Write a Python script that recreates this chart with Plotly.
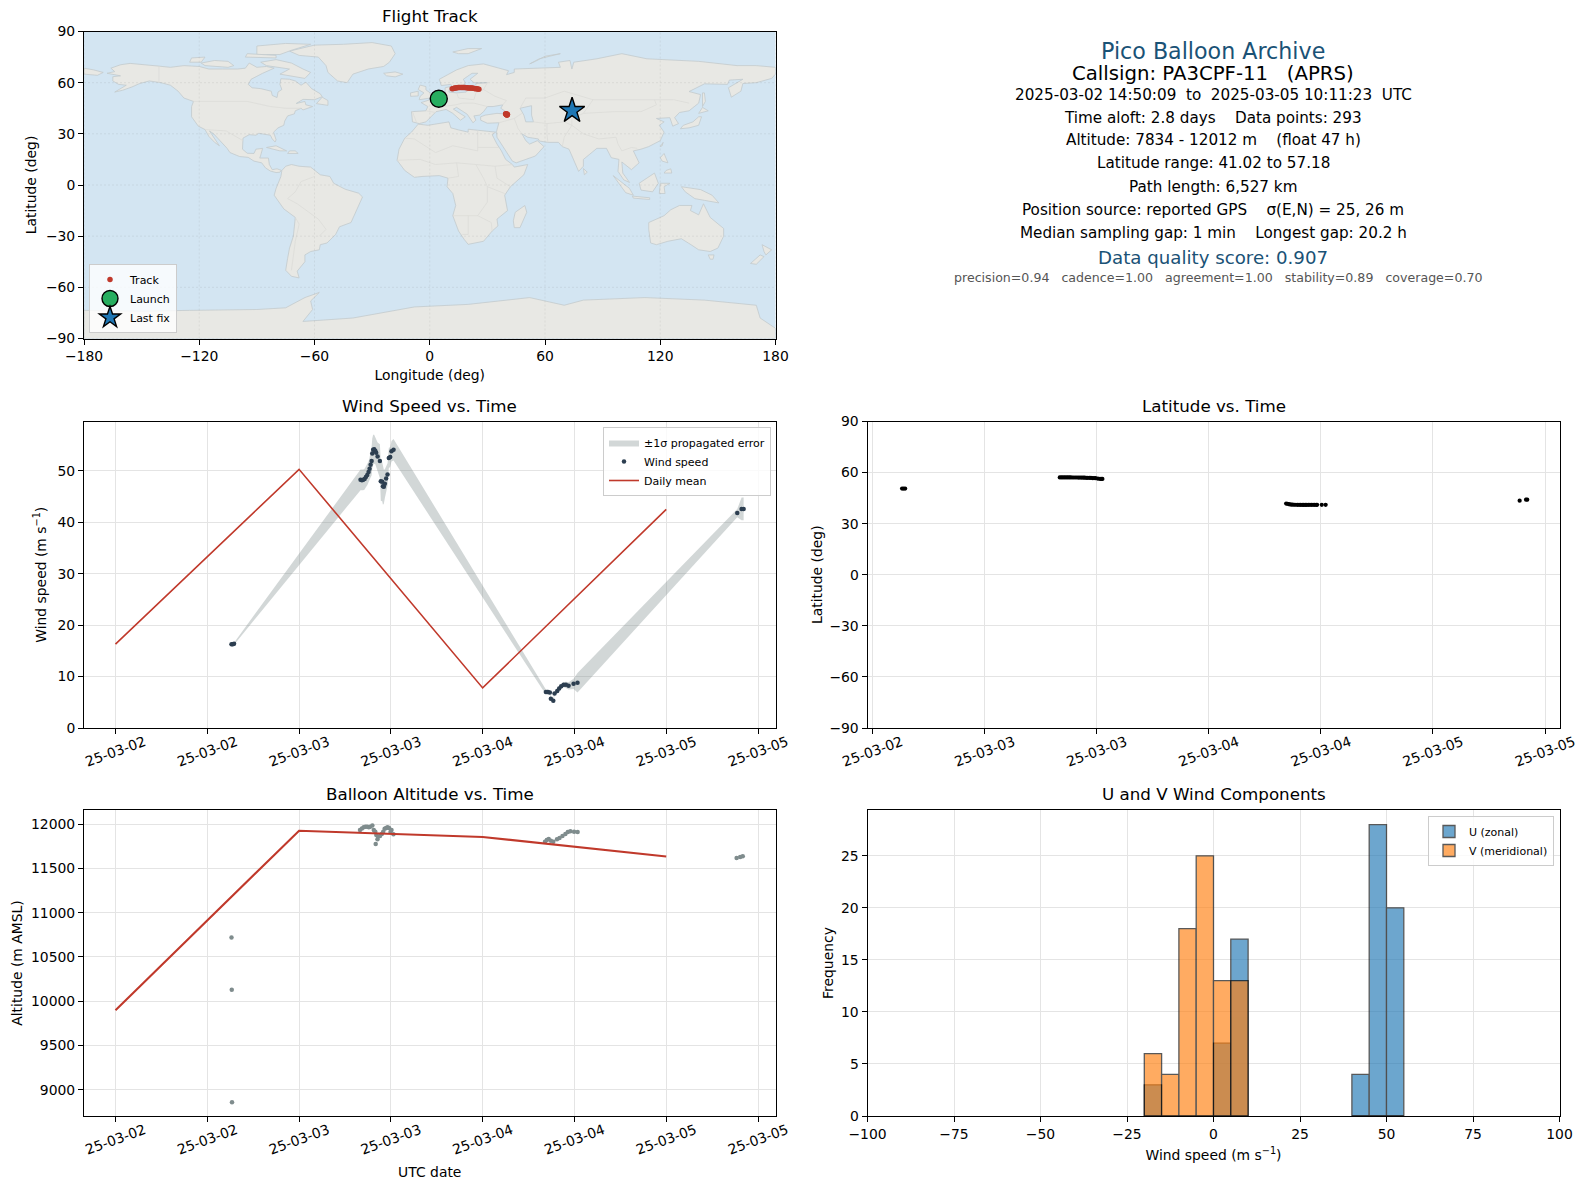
import numpy as np
import plotly.graph_objects as go

# rough world outlines, lon/lat
land_polygons = [
    # north america
    [(-168,65.5),(-164,66.5),(-166,68.5),(-161,70.5),(-156,71.3),(-150,70.5),(-141,69.7),(-135,69),(-128,70),(-120,69.5),
     (-115,68),(-108,68),(-100,68),(-96,68.5),(-94,71.5),(-90,69),(-85,69.5),(-81,68.5),(-87,65.5),(-93,62),(-94.5,59),
     (-92.5,57),(-88,56.5),(-82.5,55),(-82,52.5),(-79.5,51.3),(-79,54.5),(-77,56),(-78,59),(-77.5,62.3),(-73,62),(-70,61),
     (-67,58.5),(-64.5,60.3),(-61.5,56.5),(-57,53.5),(-56,51.8),(-60,50),(-66,50.2),(-69.5,47.8),(-65,49),(-64.5,47),(-61,46),
     (-66,44),(-67,45),(-70,43.5),(-70.5,41.7),(-74,40.5),(-75.5,37.5),(-76,35),(-79,33.5),(-81.3,31),(-80,26.5),(-80.5,25.2),
     (-82,27),(-83,29.2),(-85,29.7),(-89,30.3),(-90.5,29.2),(-94,29.5),(-97.2,27.5),(-97.5,24),(-97.5,21),(-95,18.6),(-91.5,18.5),
     (-90.5,21),(-87,21.5),(-88,17.5),(-88.5,15.8),(-84,15.8),(-83.5,12),(-82,9),(-79.5,9.5),(-77.3,8.6),(-78,7.5),(-80,7.3),
     (-83,8.2),(-85.5,10),(-87.5,13),(-91.5,14),(-94.5,16.2),(-99,16.7),(-104,19),(-105.5,21.5),(-109,26),(-112.5,30),(-114.7,31.7),
     (-112,27),(-109.5,23),(-112,25),(-115,28.5),(-117,32.5),(-120.5,34.5),(-124,40),(-124,46),(-123,49),(-128,51),(-131,55),
     (-135,58.5),(-140,60),(-146,61),(-151,59.5),(-155,57.5),(-160,55.5),(-164,54.5),(-158,58.5),(-162,59),(-165,61),(-165,63.5),(-161,64)],
    # greenland
    [(-73,78.5),(-66,80.5),(-60,82),(-45,82.5),(-30,83.5),(-20,81.5),(-18,77),(-21,72),(-24,69.5),(-32,68),(-40,65),(-43,60),
     (-48,61),(-53,66),(-54,70),(-58,75),(-68,76)],
    # arctic canada
    [(-80,73.5),(-72,71.5),(-66,68),(-62,66),(-65,62.5),(-72,64),(-78,65),(-73,68),(-85,70),(-88,72)],
    [(-117,70),(-105,69),(-102,70),(-105,72.5),(-112,73),(-119,71.5)],
    [(-90,76.5),(-78,76.5),(-72,79),(-62,82.5),(-75,83),(-90,81.5)],
    [(-125,72),(-119,72),(-117,75),(-124,74.5)],
    [(-96,75),(-80,74.5),(-80,76),(-95,77)],
    [(-59,47.7),(-53,46.7),(-53,49.5),(-56,51.5)],
    # caribbean
    [(-85,22),(-80,23),(-74.5,20),(-78,20)],
    [(-74,18.5),(-68.5,18.5),(-70,20),(-73,20)],
    # south america
    [(-77,8.5),(-75,11),(-72,12),(-68,11),(-62,10.5),(-57,6),(-52,5),(-50,1),(-44,-2.5),(-37,-4.8),(-35,-7),(-37,-12),(-39,-17),
     (-41,-22),(-47,-24.5),(-49,-29),(-53.5,-34),(-57,-35),(-57.5,-38),(-62,-39),(-65,-41),(-65,-45),(-69,-50.5),(-68,-54.5),
     (-72,-53.5),(-75,-50),(-74,-43),(-73,-37),(-71,-30),(-70,-19),(-76,-14),(-81,-6),(-80,-2),(-78.8,2),(-77.5,5)],
    # africa
    [(-6,35.7),(-1,35),(10,37),(11,33.5),(15,32.3),(20,31),(20,32.7),(25,32),(32,31.2),(34.3,31),(32.5,29.5),(35,24),(37.3,20),
     (39.5,15),(43,12),(44,10.5),(51,12),(49,6),(42,-1),(39,-6),(40.5,-15),(35,-20),(35.5,-24),(32.5,-27),(28,-33),(20,-34.8),
     (18,-32),(15,-27),(12,-18),(13.5,-12),(12,-5),(9,-1),(9.5,4),(5,5.5),(-4,5),(-8,4.5),(-13,8.5),(-17,14.5),(-16,21),(-13,27.5),(-9.5,31)],
    [(49.5,-12),(50.5,-16),(47,-25),(44,-25),(43.5,-21),(44.5,-16)],
    # eurasia
    [(-9,37),(-9.5,43),(-2,43.5),(-1,46),(-4.5,48.3),(1.5,50.5),(4,52),(8,54),(8,57),(10.5,57.7),(10,54.5),(14,54),(19,54.5),(21,57),
     (24,57.5),(24,59.5),(30,60),(23,60),(21,62),(25,65.5),(22,65.5),(17.5,62),(18.5,60),(16.5,56.5),(13,55.5),(11,59),(6,58.3),(5,62),
     (14,67.5),(20,70),(28,71),(41,67),(40,64.7),(44,66),(44,68),(54,68.5),(60,69),(68,69),(67,72),(73,73),(74,68),(75,72),(87,74),
     (100,77),(113,74),(128,73),(140,72.5),(160,70),(170,70),(180,69),(180,65),(178,62.5),(170,60),(163,59.5),(162,55),(157,51.5),
     (155.5,57),(163,62),(156,61.5),(155,59),(143,59.3),(135,54.8),(141,53),(140,48),(135,43.5),(130,42.5),(127.5,39.5),(129.5,36),
     (126.5,34.5),(125,39.5),(121,39),(118,39),(122,37),(119.5,35),(122,31),(120,26),(114,22.5),(110,21),(106,20),(109,13),(105,9),
     (100,13.5),(100.5,7),(104,1.5),(101,3),(98,8),(98.5,15),(94.5,16),(92,21.5),(87,21.5),(80,15),(80,11),(77.5,8),(73,19),(72.5,21),
     (69,22.5),(67,25),(61.5,25),(57,25.8),(56.5,27),(51,28),(48,30),(50,26),(52,24),(56,26),(59.5,22.5),(55,17),(45,13),(43,14),(39,21),
     (35,28),(34.8,31.5),(36,36.5),(30,36.2),(26.5,38),(26.5,40),(29,41),(35,42),(41.5,41.5),(37,45),(38,47),(33,46),(30,46),(28,43),
     (26,41),(23,40.5),(24,38),(22.5,36.5),(19.5,41.5),(14,45.5),(12.3,44.5),(18.5,40),(16,38),(12,42),(8.5,44.3),(3.3,43),(0,39),(-2,37),(-5.5,36)],
    [(-180,68.5),(-175,67.5),(-170,66),(-173,64.3),(-180,65)],
    # islands
    [(-5.5,50),(1.5,51.2),(1.5,53),(-2,55.8),(-2,57.7),(-5,58.6),(-6,56),(-3,54),(-5,52)],
    [(-10,52),(-6,52.2),(-6,55),(-10,54)],
    [(-24,65.5),(-18,66.3),(-14,65),(-18,63.4),(-22.5,64)],
    [(12,78),(20,80),(27,80),(20,77),(15,77)],
    [(52,71),(57,74),(68,77),(60,75.5),(55,72.5)],
    [(80,9.7),(82,7.5),(80.5,6)],
    [(130.5,33),(135,33.5),(140,35),(141.5,40),(140,40),(137,37),(132,35)],
    [(140,42),(145,43.5),(142,45.5)],
    [(142,46),(143.5,49),(143,54),(142,54)],
    [(120,22.5),(121.5,25),(121,23)],
    [(120,16),(122,18.5),(124,13),(121,14)],
    [(122,7),(126,7),(125.5,9.5),(123,8.5)],
    [(95.5,5.5),(104,-2),(106,-6),(102,-4.5)],
    [(105.5,-6.5),(114.5,-7.5),(114.5,-8.5),(106,-7.7)],
    [(109,1),(117,7),(119,1),(116,-4),(110,-3)],
    [(119.5,-5),(120,1),(125,1),(122,-1),(122.5,-5)],
    [(131,-1),(141,-2.7),(147,-6),(150.5,-10.5),(143,-9),(138,-8),(133,-4)],
    # australia, nz
    [(114,-22),(122,-18),(125.5,-14.5),(130,-12),(136.5,-12),(135.7,-15),(140,-17.5),(142.5,-11),(146,-19),(153,-25.5),(153,-30),
     (150,-37),(146,-39),(140,-38),(136,-35),(131,-31.5),(124,-33),(118,-35),(115,-34),(114,-26)],
    [(145,-41),(148,-41),(147.5,-43.5),(146,-43.5)],
    [(173,-35),(178,-38),(175,-41),(174,-39)],
    [(172,-41),(174,-42),(170,-46.5),(167,-46)],
    # antarctica
    [(-180,-73.5),(-150,-74),(-125,-73.5),(-105,-73),(-90,-73),(-75,-72),(-65,-66),(-57.5,-63),(-62,-68),(-61,-73),(-66,-80),(-40,-78),
     (-25,-75),(-8,-71.5),(20,-70),(52,-66),(70,-70.5),(80,-67.5),(112,-66),(143,-67.5),(170,-70.5),(172,-78),(180,-84),(180,-90),(-180,-90)],
]
caspian = [(47,45),(53,46.5),(53,41),(54,37),(50,37),(49,41)]
border_lines = [
    [(-123,49),(-95,49),(-83,46),(-75,45),(-67,45)],
    [(-141,69.7),(-141,60)],
    [(-117,32.5),(-106,31.7),(-97.2,26)],
    [(-70,-19),(-68,-23),(-70,-33),(-72,-50)],
    [(-70,-4),(-74,-8),(-69,-11),(-58,-20),(-54,-26),(-57.5,-30)],
    [(-60,5),(-67,2),(-70,-4)],
    [(-9,43),(-7,37)],
    [(-2,43.5),(3,42.5)],
    [(3,51.5),(8,49),(7,46),(13.5,47),(17,48),(23,48),(30,46)],
    [(14,54),(15,51),(23,50),(24,54),(28,56),(30,60)],
    [(28,56),(34,52),(40,49.5),(38,47)],
    [(48,42),(44,39),(36,36.5)],
    [(44,39),(46,33),(48,30)],
    [(47,45),(50,51),(60,51),(70,55),(85,50),(98,50),(117,50),(127,50),(135,48)],
    [(54,37),(61,36),(61,30),(61.5,25)],
    [(61,36),(70,37),(74,35),(70,28),(69,22.5)],
    [(74,35),(80,30),(88,27),(97,28),(98,24),(100,20),(105,22),(108,21.5)],
    [(80,42),(74,39),(74,35)],
    [(85,50),(80,42),(96,43),(110,43),(118,47),(117,50)],
    [(-13,27.5),(-8,27),(3,19),(12,23),(25,20),(25,32)],
    [(25,22),(36,22)],
    [(-17,14.5),(-5,15),(3,12),(14,13),(24,12),(34,11),(43,12)],
    [(14,13),(15,5),(9.5,4)],
    [(24,12),(28,4),(30,-1),(30,-10),(25,-18),(12,-18)],
    [(34,11),(35,4),(42,-1)],
    [(30,-1),(39,-5)],
    [(25,-18),(32,-22),(32.5,-27)],
    [(20,-18),(20,-29),(17,-29)],
]

# grid ticks for the map
lon_ticks = [-180, -120, -60, 0, 60, 120, 180]
lat_ticks = [-90, -60, -30, 0, 30, 60, 90]

track_lon = [11.7,12.4,13.0,13.6,14.2,14.8,15.4,16.0,16.6,17.2,17.8,18.4,19.0,19.6,20.2,20.8,21.4,22.0,22.6,23.2,23.8,24.4,25.0,25.6,
             39.5,39.7,39.9,40.1,40.3,40.5,40.2,39.8]
track_lat = [56.4,56.6,56.8,56.9,57.0,57.1,57.15,57.18,57.18,57.15,57.1,57.1,57.0,57.0,56.9,56.9,56.8,56.8,56.7,56.6,56.5,56.5,56.3,56.2,
             41.8,41.5,41.2,41.02,41.1,41.3,41.6,41.7]
launch_lon = [4.7]
launch_lat = [50.6]
last_lon = [74.1]
last_lat = [43.6]

wind_time = [
    "2025-03-02 15:10","2025-03-02 15:20","2025-03-02 15:30",
    "2025-03-03 08:02","2025-03-03 08:13","2025-03-03 08:23","2025-03-03 08:34","2025-03-03 08:44","2025-03-03 08:55","2025-03-03 09:05",
    "2025-03-03 09:13","2025-03-03 09:21","2025-03-03 09:29","2025-03-03 09:34","2025-03-03 09:41","2025-03-03 09:49","2025-03-03 09:58",
    "2025-03-03 10:05","2025-03-03 10:16","2025-03-03 10:34","2025-03-03 10:41","2025-03-03 10:52","2025-03-03 10:58","2025-03-03 11:05",
    "2025-03-03 11:13","2025-03-03 11:23","2025-03-03 11:34","2025-03-03 11:44","2025-03-03 11:55","2025-03-03 12:05","2025-03-03 12:21",
    "2025-03-04 08:16","2025-03-04 08:32","2025-03-04 08:47","2025-03-04 08:55","2025-03-04 09:14","2025-03-04 09:24","2025-03-04 09:45",
    "2025-03-04 10:00","2025-03-04 10:16","2025-03-04 10:35","2025-03-04 10:53","2025-03-04 11:14","2025-03-04 11:53","2025-03-04 12:24",
    "2025-03-05 09:17","2025-03-05 09:51","2025-03-05 10:07",
]
wind_speed = [16.3,16.3,16.4,
              48.25,48.2,48.25,48.4,48.8,49.2,49.8,50.4,51.2,51.9,53.4,54.1,54.2,53.9,53.5,52.8,51.9,48.0,47.9,47.0,46.9,47.5,48.5,49.3,52.5,52.7,53.8,54.1,
              7.0,7.0,6.9,5.7,5.3,6.7,7.2,7.7,8.1,8.4,8.4,8.2,8.6,8.8,
              41.8,42.6,42.6]
wind_err = [0.2,0.2,0.2,
            2.0,2.0,2.0,2.0,2.0,2.0,2.0,2.2,2.5,2.8,2.9,2.9,2.8,2.6,2.5,2.7,3.3,3.8,3.8,3.6,3.3,2.8,2.4,2.2,2.0,1.9,2.0,2.1,
            0.5,0.5,0.4,0.4,0.4,0.4,0.5,0.5,0.5,0.5,0.6,0.7,1.0,1.9,
            0.8,2.2,2.2]

mean_day = ["2025-03-02","2025-03-03","2025-03-04","2025-03-05"]
mean_wind = [16.3,50.3,7.8,42.5]
mean_alt = [9900,11925,11855,11635]

alt_time = [
    "2025-03-02 15:10","2025-03-02 15:12","2025-03-02 15:14",
    "2025-03-03 07:58","2025-03-03 08:13","2025-03-03 08:27","2025-03-03 08:41","2025-03-03 08:55","2025-03-03 09:07","2025-03-03 09:18",
    "2025-03-03 09:35","2025-03-03 09:46","2025-03-03 09:58","2025-03-03 10:06","2025-03-03 10:15","2025-03-03 10:01","2025-03-03 10:20",
    "2025-03-03 10:35","2025-03-03 10:49","2025-03-03 11:00","2025-03-03 11:11","2025-03-03 11:23","2025-03-03 11:34","2025-03-03 11:46",
    "2025-03-03 11:57","2025-03-03 12:05","2025-03-03 12:20",
    "2025-03-04 08:09","2025-03-04 08:23","2025-03-04 08:38","2025-03-04 08:55","2025-03-04 09:14","2025-03-04 09:43","2025-03-04 10:03",
    "2025-03-04 10:26","2025-03-04 10:49","2025-03-04 11:08","2025-03-04 11:28","2025-03-04 11:57","2025-03-04 12:25",
    "2025-03-05 09:12","2025-03-05 09:40","2025-03-05 10:00",
]
altitude = [10720,10130,8860,
            11933,11951,11963,11970,11970,11963,11970,11985,11933,11914,11876,11828,11775,11858,11865,11888,11914,11948,11955,11963,11955,11910,11933,11884,
            11802,11820,11831,11813,11802,11828,11843,11865,11888,11910,11918,11914,11910,
            11618,11629,11637]

lat_time = [
    "2025-03-02 15:10","2025-03-02 15:20","2025-03-02 15:30",
    "2025-03-03 08:03","2025-03-03 08:13","2025-03-03 08:23","2025-03-03 08:33","2025-03-03 08:43","2025-03-03 08:53","2025-03-03 09:03",
    "2025-03-03 09:13","2025-03-03 09:23","2025-03-03 09:33","2025-03-03 09:43","2025-03-03 09:53","2025-03-03 10:03","2025-03-03 10:13",
    "2025-03-03 10:23","2025-03-03 10:33","2025-03-03 10:43","2025-03-03 10:53","2025-03-03 11:03","2025-03-03 11:13","2025-03-03 11:23",
    "2025-03-03 11:33","2025-03-03 11:43","2025-03-03 11:53","2025-03-03 12:08","2025-03-03 12:22","2025-03-03 12:30","2025-03-03 12:37",
    "2025-03-04 08:17","2025-03-04 08:25","2025-03-04 08:33","2025-03-04 08:41","2025-03-04 08:50","2025-03-04 09:00","2025-03-04 09:10",
    "2025-03-04 09:20","2025-03-04 09:30","2025-03-04 09:40","2025-03-04 09:50","2025-03-04 10:00","2025-03-04 10:10","2025-03-04 10:20",
    "2025-03-04 10:30","2025-03-04 10:40","2025-03-04 10:50","2025-03-04 11:00","2025-03-04 11:10","2025-03-04 11:20","2025-03-04 11:30",
    "2025-03-04 11:36","2025-03-04 12:06","2025-03-04 12:31",
    "2025-03-05 09:17","2025-03-05 09:58","2025-03-05 10:06",
]
latitude = [50.6,50.6,50.6,
            57.18,57.18,57.18,57.17,57.17,57.15,57.15,57.14,57.12,57.12,57.1,57.1,57.08,57.05,57.05,57.0,57.0,56.95,56.95,56.9,56.85,56.8,56.75,56.7,56.4,56.3,56.3,56.3,
            41.8,41.7,41.5,41.3,41.2,41.15,41.1,41.1,41.08,41.05,41.05,41.02,41.02,41.02,41.03,41.04,41.04,41.05,41.05,41.05,41.05,41.05,41.05,41.05,
            43.5,44.1,44.1]

hist_bin_left = [-20,-15,-10,-5,0,5,40,45,50]
u_counts = [3,0,0,0,7,17,4,28,20]
v_counts = [6,4,18,25,13,13,0,0,0]

info_lines = [
    "Pico Balloon Archive",
    "Callsign: PA3CPF-11   (APRS)",
    "2025-03-02 14:50:09  to  2025-03-05 10:11:23  UTC",
    "Time aloft: 2.8 days    Data points: 293",
    "Altitude: 7834 - 12012 m    (float 47 h)",
    "Latitude range: 41.02 to 57.18",
    "Path length: 6,527 km",
    "Position source: reported GPS    σ(E,N) = 25, 26 m",
    "Median sampling gap: 1 min    Longest gap: 20.2 h",
    "Data quality score: 0.907",
    "precision=0.94   cadence=1.00   agreement=1.00   stability=0.89   coverage=0.70",
]
info_sizes = [22.2, 19.7, 15.2, 15.2, 15.2, 15.2, 15.2, 15.2, 15.2, 18.2, 12.6]
info_colors = ["#1a5276", "black", "black", "black", "black", "black", "black", "black", "black", "#1a5276", "#555555"]
info_x_px = [1213, 1213, 1213, 1213, 1213, 1213, 1213, 1213, 1213, 1213, 1217.5]
info_y_px = [51, 73, 95, 118.5, 140, 163, 186.5, 210, 233, 257.5, 277]

W, H = 1587, 1190
FONT = "DejaVu Sans"
RED = "#c0392b"
GRID = "#e4e4e4"


def x_dom(a, b):
    return [a / W, b / W]


def y_dom(top, bottom):
    return [1 - bottom / H, 1 - top / H]


def axis(**kw):
    base = dict(showline=True, mirror=True, linecolor="black", linewidth=1, ticks="outside", ticklen=5,
                tickcolor="black", tickfont=dict(size=13.9, color="black"), showgrid=True, gridcolor=GRID,
                gridwidth=1, zeroline=False, automargin=False)
    base.update(kw)
    return base


def ax_title(text, standoff):
    return dict(text=text, font=dict(size=13.9, color="black"), standoff=standoff)


fig = go.Figure()

# flight track map
fig.add_shape(type="rect", xref="x domain", yref="y domain", x0=0, x1=1, y0=0, y1=1,
              fillcolor="#d3e5f2", line_width=0, layer="below")
for poly in land_polygons:
    lon, lat = zip(*(poly + poly[:1]))
    fig.add_trace(go.Scatter(x=lon, y=lat, mode="lines", fill="toself", fillcolor="#e8e8e4",
                             line=dict(color="#c3cacd", width=0.8), hoverinfo="skip", showlegend=False))
lon, lat = zip(*(caspian + caspian[:1]))
fig.add_trace(go.Scatter(x=lon, y=lat, mode="lines", fill="toself", fillcolor="#d3e5f2",
                         line=dict(color="#c3cacd", width=0.8), hoverinfo="skip", showlegend=False))
for line in border_lines:
    lon, lat = zip(*line)
    fig.add_trace(go.Scatter(x=lon, y=lat, mode="lines", line=dict(color="#dcdcd8", width=0.8),
                             hoverinfo="skip", showlegend=False))
grid_x, grid_y = [], []
for t in lon_ticks:
    grid_x += [t, t, None]
    grid_y += [-90, 90, None]
for t in lat_ticks:
    grid_x += [-180, 180, None]
    grid_y += [t, t, None]
fig.add_trace(go.Scatter(x=grid_x, y=grid_y, mode="lines", line=dict(color="rgba(120,120,120,0.22)", width=0.6, dash="2px,2px"),
                         hoverinfo="skip", showlegend=False))
fig.add_trace(go.Scatter(x=track_lon, y=track_lat, mode="markers", name="Track", legend="legend",
                         marker=dict(color=RED, size=5.5)))
fig.add_trace(go.Scatter(x=launch_lon, y=launch_lat, mode="markers", name="Launch", legend="legend",
                         marker=dict(color="#27ae60", size=17, line=dict(color="black", width=1.4))))
fig.add_trace(go.Scatter(x=last_lon, y=last_lat, mode="markers", name="Last fix", legend="legend",
                         marker=dict(color="#1f77b4", size=19, symbol="star", line=dict(color="black", width=1.4))))

# wind speed
t_band = wind_time + wind_time[::-1]
speed = np.array(wind_speed)
err = np.array(wind_err)
y_band = list(speed + err) + list((speed - err)[::-1])
fig.add_trace(go.Scatter(x=t_band, y=y_band, xaxis="x2", yaxis="y2", mode="lines", fill="toself",
                         fillcolor="rgba(127,140,141,0.35)", line=dict(width=0), name="±1σ propagated error",
                         legend="legend2", hoverinfo="skip"))
fig.add_trace(go.Scatter(x=wind_time, y=wind_speed, xaxis="x2", yaxis="y2", mode="markers", name="Wind speed",
                         legend="legend2", marker=dict(color="#2c3e50", size=4.5)))
fig.add_trace(go.Scatter(x=mean_day, y=mean_wind, xaxis="x2", yaxis="y2", mode="lines", name="Daily mean",
                         legend="legend2", line=dict(color=RED, width=1.6)))

# latitude
fig.add_trace(go.Scatter(x=lat_time, y=latitude, xaxis="x3", yaxis="y3", mode="markers", showlegend=False,
                         marker=dict(color="black", size=4.2)))

# altitude
fig.add_trace(go.Scatter(x=alt_time, y=altitude, xaxis="x4", yaxis="y4", mode="markers", showlegend=False,
                         marker=dict(color="#7f8c8d", size=4.5)))
fig.add_trace(go.Scatter(x=mean_day, y=mean_alt, xaxis="x4", yaxis="y4", mode="lines", showlegend=False,
                         line=dict(color=RED, width=2.1)))

# wind components
fig.add_trace(go.Bar(x=hist_bin_left, y=u_counts, xaxis="x5", yaxis="y5", width=5, offset=0, name="U (zonal)",
                     legend="legend3", opacity=0.65, marker=dict(color="#1f77b4", line=dict(color="black", width=1.3))))
fig.add_trace(go.Bar(x=hist_bin_left, y=v_counts, xaxis="x5", yaxis="y5", width=5, offset=0, name="V (meridional)",
                     legend="legend3", opacity=0.65, marker=dict(color="#ff7f0e", line=dict(color="black", width=1.3))))

wind_range = ["2025-03-01 19:53", "2025-03-05 14:17"]
lat_range = ["2025-03-02 11:28", "2025-03-05 13:33"]
date_ticks = dict(type="date", dtick=43200000, tick0="2025-03-02", tickformat="%y-%m-%d", tickangle=-20,
                  ticklabelshift=29, ticklabelstandoff=-5)

left = x_dom(84, 775.5)
right = x_dom(867.5, 1559.5)
top = y_dom(31.5, 338.5)
mid = y_dom(421.5, 728)
bot = y_dom(810, 1116)

legend_base = dict(bgcolor="rgba(255,255,255,0.8)", bordercolor="#cccccc", borderwidth=1,
                   font=dict(size=11, color="black", family=FONT), itemclick=False, itemdoubleclick=False)

fig.update_layout(
    width=W, height=H, margin=dict(l=0, r=0, t=0, b=0), autosize=False,
    paper_bgcolor="white", plot_bgcolor="white", font=dict(family=FONT, color="black"),
    barmode="overlay",
    xaxis=axis(domain=left, anchor="y", range=[-180, 180], tickvals=lon_ticks, showgrid=False,
               title=ax_title("Longitude (deg)", 7)),
    yaxis=axis(domain=top, anchor="x", range=[-90, 90], tickvals=lat_ticks, showgrid=False,
               title=ax_title("Latitude (deg)", 6)),
    xaxis2=axis(domain=left, anchor="y2", range=wind_range, **date_ticks),
    yaxis2=axis(domain=mid, anchor="x2", range=[0, 59.6], dtick=10,
                title=ax_title("Wind speed (m s<sup>−1</sup>)", 7)),
    xaxis3=axis(domain=right, anchor="y3", range=lat_range, **date_ticks),
    yaxis3=axis(domain=mid, anchor="x3", range=[-90, 90], tickvals=lat_ticks,
                title=ax_title("Latitude (deg)", 3)),
    xaxis4=axis(domain=left, anchor="y4", range=wind_range, title=ax_title("UTC date", 10), **date_ticks),
    yaxis4=axis(domain=bot, anchor="x4", range=[8705, 12159], dtick=500, tickformat="d",
                title=ax_title("Altitude (m AMSL)", 5)),
    xaxis5=axis(domain=right, anchor="y5", range=[-100, 100], dtick=25,
                title=ax_title("Wind speed (m s<sup>−1</sup>)", 9)),
    yaxis5=axis(domain=bot, anchor="x5", range=[0, 29.4], dtick=5,
                title=ax_title("Frequency", 4)),
    legend=dict(x=89 / W, y=1 - 333 / H, xanchor="left", yanchor="bottom", itemsizing="trace", **legend_base),
    legend2=dict(x=771 / W, y=1 - 427 / H, xanchor="right", yanchor="top", **legend_base),
    legend3=dict(x=1554 / W, y=1 - 816 / H, xanchor="right", yanchor="top", **legend_base),
)

titles = [("Flight Track", "x", "y"), ("Wind Speed vs. Time", "x2", "y2"), ("Latitude vs. Time", "x3", "y3"),
          ("Balloon Altitude vs. Time", "x4", "y4"), ("U and V Wind Components", "x5", "y5")]
for text, xa, ya in titles:
    fig.add_annotation(text=text, xref=xa + " domain", yref=ya + " domain", x=0.5, y=1, yanchor="bottom", yshift=4,
                       showarrow=False, font=dict(size=16.7, color="black"))

for line, size, color, xpx, ypx in zip(info_lines, info_sizes, info_colors, info_x_px, info_y_px):
    fig.add_annotation(text=line.replace("  ", "&nbsp;&nbsp;"), xref="paper", yref="paper", x=xpx / W, y=1 - ypx / H,
                       xanchor="center", yanchor="middle", showarrow=False, font=dict(size=size, color=color))

fig.write_html("out.html", config=dict(displayModeBar=False),
               post_script="document.body.style.margin='0';document.body.style.overflow='hidden';")
